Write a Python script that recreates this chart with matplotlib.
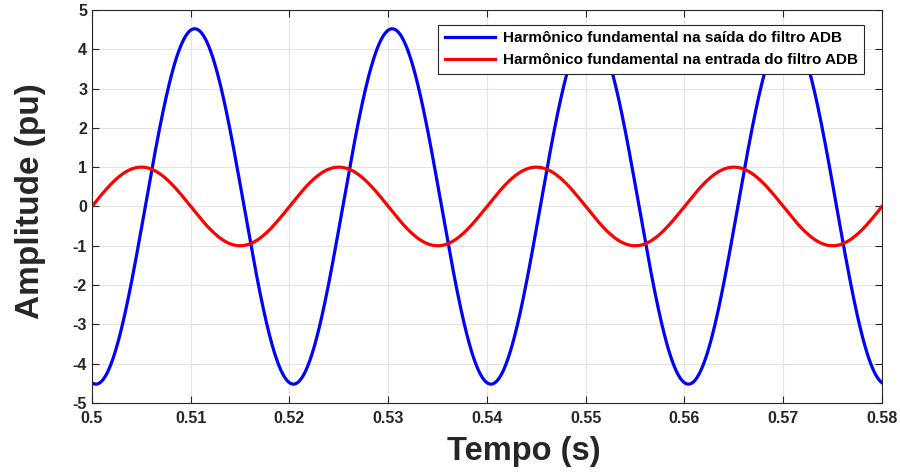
import matplotlib.pyplot as plt
import numpy as np

plt.rcParams['font.family'] = ['Liberation Sans', 'DejaVu Sans']
plt.rcParams['font.weight'] = 'bold'
plt.rcParams['axes.unicode_minus'] = False

# Parâmetros dos sinais (50 Hz)
freq = 50.0
amp_saida = 4.52
fase_saida = 0.5004      # instante do vale inicial (s)
amp_entrada = 1.0
fase_entrada = 0.5       # cruzamento por zero inicial (s)

t_ini, t_fim = 0.5, 0.58
xticks = [0.5, 0.51, 0.52, 0.53, 0.54, 0.55, 0.56, 0.57, 0.58]
xticklabels = ['0.5', '0.51', '0.52', '0.53', '0.54', '0.55', '0.56', '0.57', '0.58']
yticks = [-5, -4, -3, -2, -1, 0, 1, 2, 3, 4, 5]

t = np.linspace(t_ini, t_fim, 2000)
saida = -amp_saida * np.cos(2 * np.pi * freq * (t - fase_saida))
entrada = amp_entrada * np.sin(2 * np.pi * freq * (t - fase_entrada))

fig = plt.figure(figsize=(9, 4.73), dpi=100)
ax = fig.add_axes([0.1022, 0.148, 0.8778, 0.8311])

ax.plot(t, saida, color='#0000ff', lw=2.3,
        label='Harmônico fundamental na saída do filtro ADB')
ax.plot(t, entrada, color='#ff0000', lw=2.3,
        label='Harmônico fundamental na entrada do filtro ADB')

ax.set_xlim(t_ini, t_fim)
ax.set_ylim(-5, 5)
ax.set_xticks(xticks)
ax.set_xticklabels(xticklabels)
ax.set_yticks(yticks)

ax.grid(True, color='#e3e3e3', lw=0.8)
ax.set_axisbelow(True)
ax.tick_params(direction='in', length=5, width=0.8, colors='#262626',
               labelsize=11.5, top=True, right=True)
ax.tick_params(axis='x', pad=6)
for s in ax.spines.values():
    s.set_color('#262626')
    s.set_linewidth(0.8)

ax.set_xlabel('Tempo (s)', fontsize=23.5, fontweight='bold', color='#262626')
ax.set_ylabel('Amplitude (pu)', fontsize=24, fontweight='bold', color='#262626')
ax.xaxis.set_label_coords(0.547, -0.085)
ax.yaxis.set_label_coords(-0.058, 0.514)

leg = ax.legend(loc='upper right', bbox_to_anchor=(0.9875, 0.982), fontsize=11,
                handlelength=3.3, borderpad=0.45, labelspacing=0.5,
                handletextpad=0.5, fancybox=False, framealpha=1)
leg.get_frame().set_edgecolor('#262626')
leg.get_frame().set_linewidth(0.8)

fig.savefig('out.png', dpi=100)
